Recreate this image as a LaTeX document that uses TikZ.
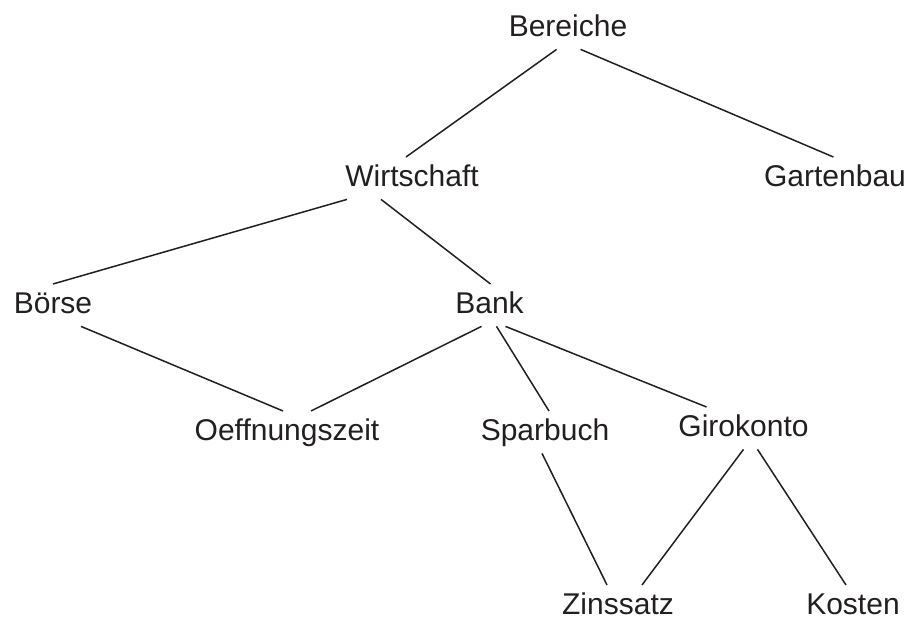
\documentclass[tikz,border=0pt]{standalone}
\usepackage{fontspec}
\setmainfont{Liberation Sans}
\usepackage{tikz}
\usetikzlibrary{positioning}

\definecolor{ink}{HTML}{231F20}

\begin{document}
\begin{tikzpicture}[x=0.5pt,y=-0.5pt,
  font=\fontsize{15}{18}\selectfont,
  term/.style={anchor=base,text=ink,inner xsep=0pt,inner ysep=4pt,
    text height=10.8pt,text depth=2pt},
  link/.style={draw=ink,line width=0.75pt}]
\useasboundingbox (0,0) rectangle (911,619);
\node[term] (bereiche) at (568,37) {Bereiche};
\node[term] (wirtschaft) at (412,187) {Wirtschaft};
\node[term] (gartenbau) at (835,187) {Gartenbau};
\node[term] (boerse) at (53,314) {Börse};
\node[term] (bank) at (489.5,314) {Bank};
\node[term] (oeffnung) at (287,441) {Oeffnungszeit};
\node[term] (sparbuch) at (545,441) {Sparbuch};
\node[term] (girokonto) at (743.5,437) {Girokonto};
\node[term] (zinssatz) at (618,615) {Zinssatz};
\node[term] (kosten) at (853,615) {Kosten};
\draw[link] ([xshift=-5.7pt]bereiche.south) -- ([xshift=-3pt]wirtschaft.north);
\draw[link] ([xshift=6.3pt]bereiche.south) -- ([xshift=-0.8pt]gartenbau.north);
\draw[link] ([xshift=-32.5pt]wirtschaft.south) -- (boerse.north);
\draw[link] ([xshift=-15.5pt]wirtschaft.south) -- ([xshift=0.5pt]bank.north);
\draw[link] ([xshift=14pt]boerse.south) -- ([xshift=-2pt]oeffnung.north);
\draw[link] ([xshift=-4pt]bank.south) -- ([xshift=12pt]oeffnung.north);
\draw[link] ([xshift=3.5pt]bank.south) -- ([xshift=2pt]sparbuch.north);
\draw[link] ([xshift=8pt]bank.south) -- ([xshift=-18.5pt]girokonto.north);
\draw[link] ([xshift=-1.5pt]sparbuch.south) -- ([xshift=-5.5pt]zinssatz.north);
\draw[link] (girokonto.south) -- ([xshift=12pt]zinssatz.north);
\draw[link] ([xshift=7pt]girokonto.south) -- ([xshift=-3.5pt]kosten.north);
\end{tikzpicture}
\end{document}
